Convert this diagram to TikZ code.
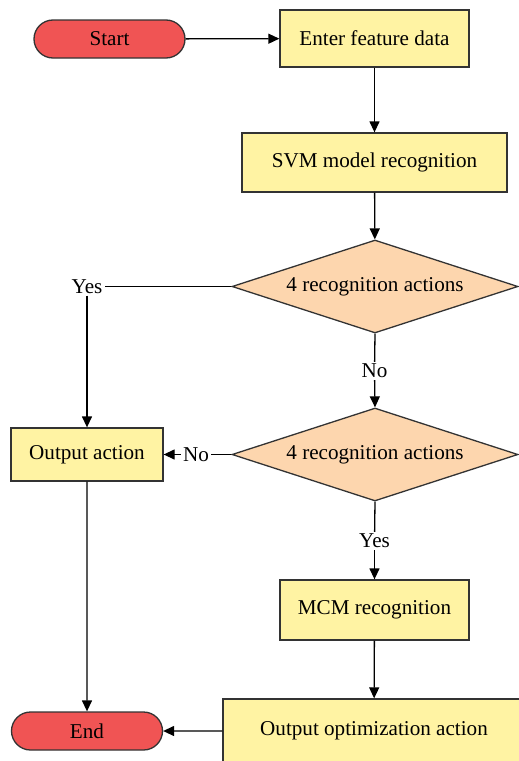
\documentclass[tikz,border=0pt]{standalone}
\usepackage{fontspec}
\setmainfont{Liberation Serif}
\usepackage{tikz}
\usetikzlibrary{arrows.meta,shapes}

\definecolor{endred}{RGB}{240,84,84}
\definecolor{boxyellow}{RGB}{255,243,163}
\definecolor{decorange}{RGB}{253,214,174}
\definecolor{edgegray}{RGB}{51,51,51}

\begin{document}
\begin{tikzpicture}[>={Triangle[length=11bp,width=10bp]},
  every node/.style={font=\fontsize{21.2}{25}\selectfont},
  term/.style={draw=edgegray,line width=1.3bp,rounded rectangle,fill=endred,minimum width=151bp,minimum height=38bp,inner sep=0pt},
  proc/.style={draw=edgegray,line width=1.3bp,fill=boxyellow,inner sep=0pt},
  dec/.style={draw=edgegray,line width=1.3bp,diamond,aspect=3.07,fill=decorange,minimum width=286bp,minimum height=93bp,inner sep=0pt},
  lab/.style={inner sep=2bp},
  flow/.style={->,line width=1.3bp}]

\useasboundingbox (0bp,0bp) rectangle (519bp,-761bp);

\node (Start) at (109.5bp,-39bp)[term] {Start};
\node (Enter) at (374.5bp,-38.5bp)[proc,minimum width=189bp,minimum height=57bp] {Enter feature data};
\node (SVM) at (374.5bp,-162.5bp)[proc,minimum width=265bp,minimum height=59bp] {SVM model recognition};
\node (D1) at (375bp,-286.5bp)[dec] {4 recognition actions};
\node (Yes1) at (87bp,-286.5bp)[lab] {Yes};
\node (No1) at (374.5bp,-371bp)[lab] {No};
\node (D2) at (375bp,-454.5bp)[dec] {4 recognition actions};
\node (OutAct) at (87bp,-454.5bp)[proc,minimum width=152bp,minimum height=53bp] {Output action};
\node (No2) at (196bp,-454.5bp)[lab] {No};
\node (Yes2) at (374.5bp,-541bp)[lab] {Yes};
\node (MCM) at (374.5bp,-610bp)[proc,minimum width=189bp,minimum height=60bp] {MCM recognition};
\node (OutOpt) at (374bp,-731bp)[proc,minimum width=302bp,minimum height=64bp] {Output optimization action};
\node (End) at (87bp,-731bp)[term] {End};

\draw [flow] (Start) -- (Enter);
\draw [flow] (Enter) -- (SVM);
\draw [flow] (SVM) -- (D1);
\draw [line width=1.3bp] (D1.west) -- (Yes1.east);
\draw [flow] (Yes1.south) -- (OutAct);
\draw [line width=1.3bp] (D1.south) -- (No1);
\draw [flow] (No1) -- (D2.north);
\draw [line width=1.3bp] (D2.west) -- (No2);
\draw [flow] (No2) -- (OutAct);
\draw [line width=1.3bp] (D2.south) -- (Yes2);
\draw [flow] (Yes2) -- (MCM);
\draw [flow] (MCM) -- (OutOpt);
\draw [flow] (OutAct) -- (End);
\draw [flow] (OutOpt) -- (End);
\end{tikzpicture}
\end{document}
